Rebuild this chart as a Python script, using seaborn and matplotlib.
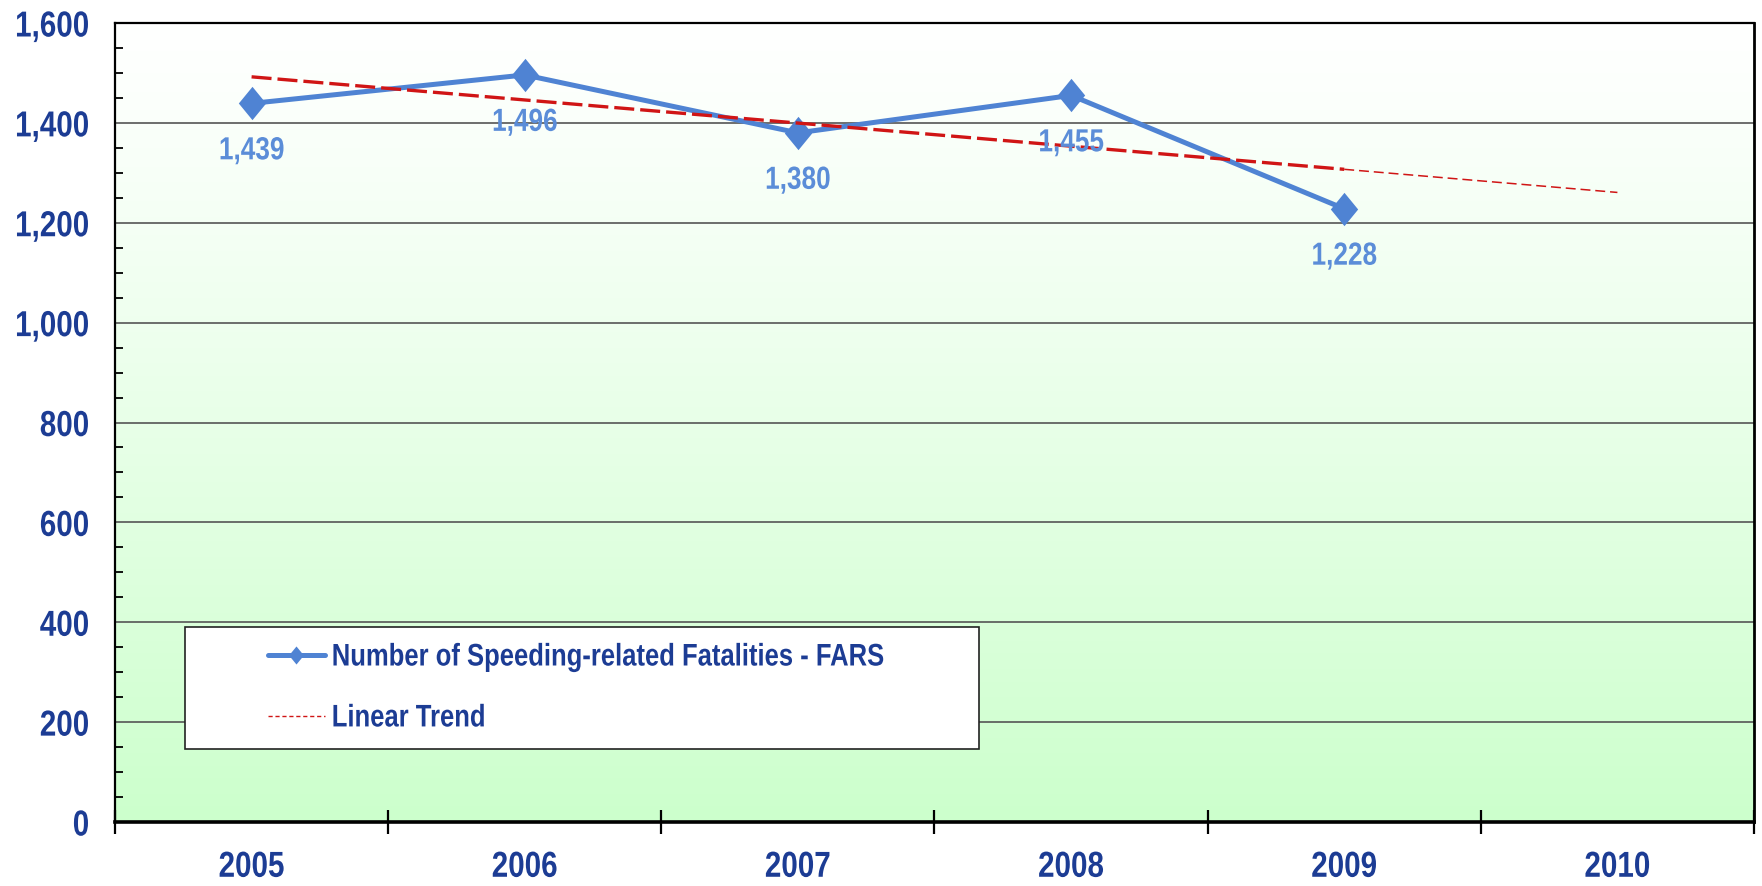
import numpy as np
import pandas as pd
import matplotlib
matplotlib.use("Agg")
import matplotlib.pyplot as plt
from matplotlib import font_manager
from matplotlib.path import Path
from matplotlib.lines import Line2D
from matplotlib.patches import Rectangle
from matplotlib.patheffects import AbstractPathEffect
from matplotlib.transforms import Affine2D
import seaborn as sns

# ---- data ----
years = ["2005", "2006", "2007", "2008", "2009", "2010"]
fatalities = [1439, 1496, 1380, 1455, 1228]
series_label = "Number of Speeding-related Fatalities - FARS"
trend_label = "Linear Trend"
y_ticks = [0, 200, 400, 600, 800, 1000, 1200, 1400, 1600]

sns.set_theme(style="white")
names = {f.name for f in font_manager.fontManager.ttflist}
if "Liberation Sans Narrow" in names:
    fam, SX = "Liberation Sans Narrow", 1.0
else:
    fam, SX = "Liberation Sans", 0.82   # Arial Narrow == Arial condensed to 82 %
plt.rcParams["font.family"] = [fam, "DejaVu Sans"]


class Squeeze(AbstractPathEffect):
    """Horizontally condense text to emulate Arial Narrow."""

    def __init__(self, sx, ha="left", right_to=None):
        super().__init__()
        self.sx = sx
        self.ha = ha
        self.right_to = right_to

    def draw_path(self, renderer, gc, tpath, affine, rgbFace=None):
        ext = tpath.get_extents()
        if self.ha == "center":
            shift = (1 - self.sx) * (ext.x0 + ext.x1) / 2
        else:
            shift = 0
        tr = Affine2D().scale(self.sx, 1).translate(shift, 0) + affine
        if self.right_to is not None:
            dext = tpath.get_extents(tr)
            tr = tr + Affine2D().translate(self.right_to() - dext.x1, 0)
        renderer.draw_path(gc, tpath, tr, rgbFace)


NAVY = "#1c3c94"
BLUE = "#4f83d3"
LBLUE = "#5b8dd8"
RED = "#d01515"
FS = 26

fig = plt.figure(figsize=(17.62, 8.87), dpi=100)
ax = fig.add_axes([115 / 1762, 64 / 887, 1639 / 1762, 799 / 887])

# gradient background
t = np.linspace(0, 1, 256)[:, None]
top = np.array([1.0, 1.0, 1.0])
bot = np.array([0xcc, 0xff, 0xcc]) / 255
grad = top + (bot - top) * (t ** 1.15)[..., None]
ax.imshow(grad, extent=[0, 1, 0, 1], transform=ax.transAxes, aspect="auto",
          zorder=-5, origin="upper")

x = np.arange(len(fatalities))
df = pd.DataFrame({"x": x, "y": fatalities})

# linear trend fitted from data
coef = np.polyfit(x, fatalities, 1)
xt = np.arange(len(years))
yt = np.polyval(coef, xt)
tdf1 = pd.DataFrame({"x": xt[:5], "y": yt[:5]})
tdf2 = pd.DataFrame({"x": xt[4:], "y": yt[4:]})

diamond = Path([(0, 1), (0.82, 0), (0, -1), (-0.82, 0), (0, 1)],
               [Path.MOVETO, Path.LINETO, Path.LINETO, Path.LINETO, Path.CLOSEPOLY])

sns.lineplot(data=df, x="x", y="y", ax=ax, color=BLUE, lw=3.6, marker=diamond,
             markersize=24, markeredgewidth=0, zorder=4, legend=False)
sns.lineplot(data=tdf1, x="x", y="y", ax=ax, color=RED, lw=2.4, zorder=5,
             legend=False, dashes=False)
ax.lines[-1].set_dashes([6, 1.8])
sns.lineplot(data=tdf2, x="x", y="y", ax=ax, color=RED, lw=1.1, zorder=5,
             legend=False, dashes=False)
ax.lines[-1].set_dashes([6.5, 3.2])

for xi, yi in zip(x, fatalities):
    a = ax.annotate(f"{yi:,}", (xi, yi), xytext=(0, -34.5), textcoords="offset points",
                    ha="center", va="center", fontsize=23, color=LBLUE,
                    fontweight="bold", zorder=6)
    a.set_path_effects([Squeeze(SX, "center")])

ax.set_xlim(-0.5, len(years) - 0.5)
ax.set_ylim(0, 1600)
ax.set_yticks(y_ticks)
ax.set_yticklabels([f"{v:,}" for v in y_ticks])
ax.set_yticks(np.arange(0, 1601, 50), minor=True)
ax.set_xticks(np.arange(len(years)))
ax.set_xticklabels(years)
ax.set_xticks(np.arange(-0.5, len(years)), minor=True)
ax.grid(axis="y", which="major", color="#555555", lw=1.2, zorder=1)
ax.set_axisbelow(True)
ax.set_xlabel("")
ax.set_ylabel("")

# y labels: laid out from the left edge, drawn right-aligned 27 px left of the axis
ax.tick_params(axis="y", which="major", direction="in", length=0, pad=80,
               labelsize=FS, labelcolor=NAVY)
ax.tick_params(axis="y", which="minor", direction="in", length=6, width=1.3,
               color="black", left=True)
ax.tick_params(axis="x", which="major", length=0, pad=20, labelsize=FS,
               labelcolor=NAVY)
ax.tick_params(axis="x", which="minor", direction="inout", length=17, width=1.6,
               color="black", bottom=True)


def y_right():
    return ax.transAxes.transform((0, 0))[0] - 27 * fig.dpi / 100


for lab in ax.get_yticklabels():
    lab.set_fontweight("bold")
    lab.set_horizontalalignment("left")
    lab.set_path_effects([Squeeze(SX, "left", right_to=y_right)])
for lab in ax.get_xticklabels():
    lab.set_fontweight("bold")
    lab.set_path_effects([Squeeze(SX, "center")])

for s, w in zip(["left", "bottom", "top", "right"], [1.6, 2.6, 1.6, 2.0]):
    ax.spines[s].set_visible(True)
    ax.spines[s].set_color("black")
    ax.spines[s].set_linewidth(w)

# legend box
ax.add_patch(Rectangle((70 / 1639, 73 / 799), 794 / 1639, 122 / 799,
                       transform=ax.transAxes, facecolor="white",
                       edgecolor="#222222", lw=1.2, zorder=7))
handles = [
    Line2D([], [], color=BLUE, lw=3.6, marker=diamond, markersize=13,
           markeredgewidth=0),
    Line2D([], [], color=RED, lw=1.0, dashes=[3, 2]),
]
leg = ax.legend(handles, [series_label, trend_label], loc="upper left",
                bbox_to_anchor=(153 / 1639, 179.5 / 799), frameon=False,
                borderpad=0, borderaxespad=0, handlelength=1.82,
                handletextpad=0.22, labelspacing=0.99,
                prop={"family": [fam, "DejaVu Sans"], "weight": "bold",
                      "size": 22.5})
leg.set_zorder(8)
for txt in leg.get_texts():
    txt.set_color(NAVY)
    txt.set_path_effects([Squeeze(SX, "left")])

fig.savefig("out.png", dpi=100)
